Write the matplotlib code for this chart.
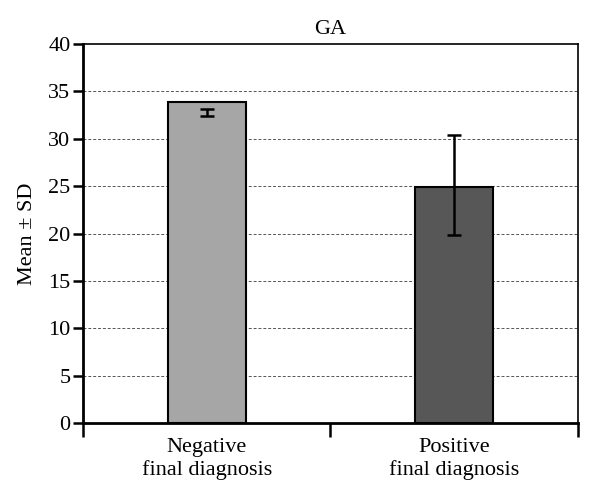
import matplotlib
matplotlib.use("Agg")
import matplotlib.pyplot as plt
from matplotlib.ticker import FixedLocator, NullFormatter

categories = ["Negative\nfinal diagnosis", "Positive\nfinal diagnosis"]
means = [33.9, 24.9]
err_center = [32.75, 25.1]
err_sd = [0.4, 5.3]
bar_colors = ["#a6a6a6", "#575757"]
yticks = [0, 5, 10, 15, 20, 25, 30, 35, 40]

plt.rcParams["font.family"] = ["Liberation Serif", "DejaVu Serif"]

fig = plt.figure(figsize=(6.06, 4.9), dpi=100)
ax = fig.add_axes([83 / 606, 1 - 423 / 490, (578 - 83) / 606, (423 - 44) / 490])

x = list(range(len(categories)))
ax.bar(x, means, width=0.315, color=bar_colors, edgecolor="black", linewidth=1.5, zorder=3)
ax.errorbar(x, err_center, yerr=err_sd, fmt="none", ecolor="black", elinewidth=1.8,
            capsize=5, capthick=1.8, zorder=4)

ax.set_xlim(-0.5, 1.5)
ax.set_ylim(0, 40)
ax.set_yticks(yticks)
ax.set_yticklabels([str(t) for t in yticks])
for t in yticks[1:-1]:
    ax.axhline(t, color="#555555", linestyle=(0, (3, 2)), linewidth=0.7, zorder=1)

ax.xaxis.set_major_locator(FixedLocator([-0.5, 0.5, 1.5]))
ax.xaxis.set_major_formatter(NullFormatter())
ax.xaxis.set_minor_locator(FixedLocator(x))
ax.set_xticklabels(categories, minor=True)
ax.tick_params(axis="x", which="major", direction="out", length=10, width=1.8)
ax.tick_params(axis="x", which="minor", length=0, pad=11, labelsize=16)
ax.tick_params(axis="y", direction="out", length=7, width=1.8, labelsize=16, pad=2)

for s in ["left", "bottom"]:
    ax.spines[s].set_linewidth(2)
for s in ["top", "right"]:
    ax.spines[s].set_linewidth(1.2)

ax.set_title("GA", fontsize=16, pad=7)
ax.set_ylabel("Mean ± SD", fontsize=16, labelpad=8)

fig.savefig("out.png", dpi=100)
